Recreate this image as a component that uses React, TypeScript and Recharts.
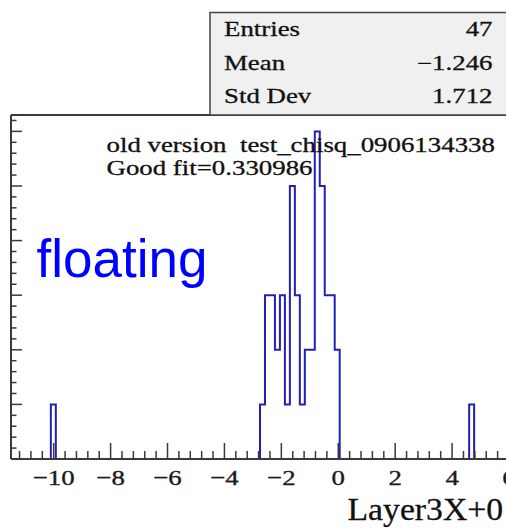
import React from 'react'
import { LineChart, Line, XAxis, YAxis, ReferenceLine } from 'recharts'

// Layer3X+0 histogram, 100 bins on [-11.5, 6] (bin width 0.175), non-empty bins only
const leftSpikeEdges = [-10.1, -9.925]
const leftSpikeCounts = [1]
const coreEdges = [-2.75, -2.575, -2.4, -2.225, -2.05, -1.875, -1.7, -1.525, -1.35, -1.175, -1.0, -0.825, -0.65, -0.475, -0.3, -0.125, 0.05]
const coreCounts = [1, 3, 3, 2, 3, 1, 5, 3, 1, 2, 2, 6, 5, 3, 3, 2]
const rightSpikeEdges = [4.6, 4.775]
const rightSpikeCounts = [1]

const xMajorTicks = [-10, -8, -6, -4, -2, 0, 2, 4, 6]
const statNames = ['Entries', 'Mean', 'Std Dev']
const statValues = ['47', '\u22121.246', '1.712']
const infoLines = ['old version  test_chisq_0906134338', 'Good fit=0.330986']
const axisTitle = 'Layer3X+0'
const overlayLabel = 'floating'

const AXIS = '#3a3a3a'
const HIST = '#2020b8'
const SERIF = '"Liberation Serif", "Times New Roman", serif'

// secondary ticks every 0.4 on x, 0.2 on y
const xTicks = Array.from({ length: 44 }, (_, k) => Math.round((-11.2 + 0.4 * k) * 10) / 10)
const yTicks = Array.from({ length: 32 }, (_, k) => Math.round(2 * k) / 10)

function outline(edges: number[], counts: number[]) {
  const pts = [{ x: edges[0], y: 0 }]
  counts.forEach((c, i) => pts.push({ x: edges[i], y: c }))
  pts.push({ x: edges[edges.length - 1], y: 0 })
  return pts
}

const fmt = (v: number) => (v < 0 ? '\u2212' + Math.abs(v) : String(v))

function XTick(props: any) {
  const { x, y, payload } = props
  const v = payload.value
  const major = xMajorTicks.includes(v)
  return (
    <g>
      <line x1={x} x2={x} y1={y} y2={y - (major ? 16 : 8)} stroke={AXIS} strokeWidth={1.5} />
      {major && (
        <text
          transform={`translate(${x} ${y + 26}) scale(1.22 1)`}
          textAnchor="middle"
          fontFamily={SERIF}
          fontSize={22}
          fill="#1a1a1a"
          stroke="#1a1a1a"
          strokeWidth={0.35}
        >
          {fmt(v)}
        </text>
      )}
    </g>
  )
}

function YTick(props: any) {
  const { x, y, payload } = props
  const major = Number.isInteger(payload.value)
  return <line x1={x} x2={x + (major ? 11 : 5.5)} y1={y} y2={y} stroke={AXIS} strokeWidth={1.5} />
}

function Stretched({ x, y, sx, size, anchor = 'start', children }: any) {
  return (
    <text
      transform={`translate(${x} ${y}) scale(${sx} 1)`}
      textAnchor={anchor}
      fontFamily={SERIF}
      fontSize={size}
      fill="#111"
      stroke="#111"
      strokeWidth={0.3}
      style={{ whiteSpace: 'pre' }}
    >
      {children}
    </text>
  )
}

export default function App() {
  return (
    <div style={{ position: 'absolute', left: 0, top: 0, width: 506, height: 528, overflow: 'hidden', background: '#fff' }}>
      <LineChart width={520} height={528} margin={{ top: 115, right: 11, bottom: 0, left: 10 }}>
        <XAxis
          dataKey="x"
          type="number"
          domain={[-11.5, 6]}
          allowDataOverflow
          ticks={xTicks}
          interval={0}
          tick={<XTick />}
          tickLine={false}
          tickSize={0}
          tickMargin={0}
          height={69}
          axisLine={{ stroke: AXIS, strokeWidth: 2 }}
        />
        <YAxis
          type="number"
          domain={[0, 6.3]}
          allowDataOverflow
          ticks={yTicks}
          interval={0}
          tick={<YTick />}
          tickLine={false}
          tickSize={0}
          tickMargin={0}
          width={1}
          axisLine={{ stroke: AXIS, strokeWidth: 2 }}
        />
        <ReferenceLine y={6.3} stroke={AXIS} strokeWidth={2} />
        <Line data={outline(leftSpikeEdges, leftSpikeCounts)} dataKey="y" type="stepAfter" stroke={HIST} strokeWidth={2} dot={false} isAnimationActive={false} />
        <Line data={outline(coreEdges, coreCounts)} dataKey="y" type="stepAfter" stroke={HIST} strokeWidth={2} dot={false} isAnimationActive={false} />
        <Line data={outline(rightSpikeEdges, rightSpikeCounts)} dataKey="y" type="stepAfter" stroke={HIST} strokeWidth={2} dot={false} isAnimationActive={false} />
      </LineChart>
      <svg width={506} height={528} style={{ position: 'absolute', left: 0, top: 0, pointerEvents: 'none' }}>
        <rect x={210} y={12.5} width={310} height={102.5} fill="#f0f0f0" stroke="#444" strokeWidth={1.5} />
        {statNames.map((n, i) => (
          <Stretched key={n} x={224} y={36 + i * 33.5} sx={1.31} size={20.5}>{n}</Stretched>
        ))}
        {statValues.map((v, i) => (
          <Stretched key={v} x={492.5} y={36 + i * 33.5} sx={1.31} size={20.5} anchor="end">{v}</Stretched>
        ))}
        {infoLines.map((t, i) => (
          <Stretched key={t} x={106.5} y={151.5 + i * 23} sx={1.31} size={20.5}>{t}</Stretched>
        ))}
        <Stretched x={347.5} y={520} sx={1.07} size={31.5}>{axisTitle}</Stretched>
        <text x={36.5} y={276.5} fontFamily='"Liberation Sans", Arial, sans-serif' fontSize={53} fill="#0000ff">
          {overlayLabel}
        </text>
      </svg>
    </div>
  )
}
